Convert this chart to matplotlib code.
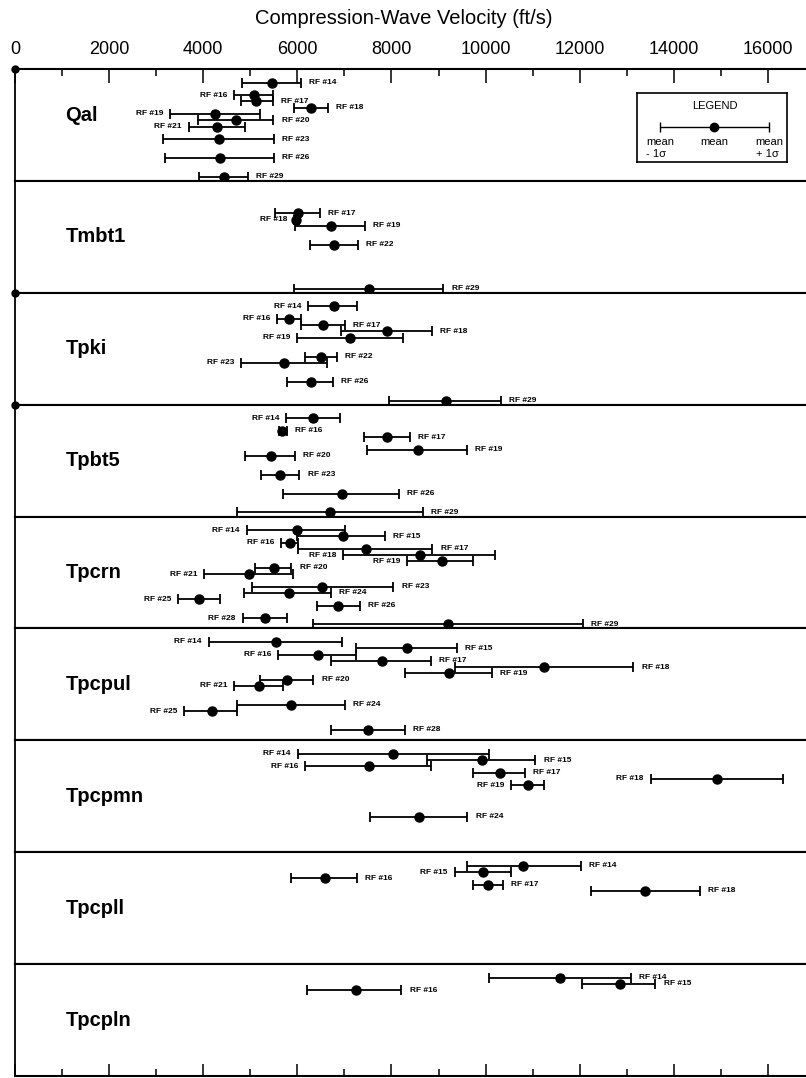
import matplotlib.pyplot as plt
from matplotlib.ticker import MultipleLocator

plt.rcParams['font.family'] = ['Liberation Sans', 'DejaVu Sans']

# ---------- data: velocity per refraction line (ft/s) ----------
title = "Compression-Wave Velocity (ft/s)"

qal_rf = [14, 16, 17, 18, 19, 20, 21, 23, 26, 29]
qal_low = [4830, 4650, 4810, 5930, 3290, 3880, 3690, 3140, 3190, 3910]
qal_mean = [5460, 5070, 5120, 6280, 4260, 4700, 4300, 4340, 4360, 4450]
qal_high = [6070, 5480, 5480, 6650, 5210, 5490, 4890, 5500, 5500, 4950]
qal_left = [16, 19, 21]

tmbt1_rf = [17, 18, 19, 22, 29]
tmbt1_low = [5530, 5930, 5960, 6260, 5920]
tmbt1_mean = [6020, 5980, 6710, 6780, 7520]
tmbt1_high = [6480, 6030, 7440, 7280, 9100]
tmbt1_left = [18]

tpki_rf = [14, 16, 17, 18, 19, 22, 23, 26, 29]
tpki_low = [6230, 5570, 6070, 6920, 6000, 6170, 4810, 5770, 7950]
tpki_mean = [6770, 5830, 6540, 7900, 7120, 6500, 5720, 6280, 9150]
tpki_high = [7260, 6080, 7010, 8860, 8240, 6840, 6620, 6750, 10320]
tpki_left = [14, 16, 19, 23]

tpbt5_rf = [14, 16, 17, 19, 20, 23, 26, 29]
tpbt5_low = [5760, 5600, 7420, 7490, 4890, 5230, 5700, 4710]
tpbt5_mean = [6340, 5680, 7910, 8560, 5430, 5640, 6950, 6690]
tpbt5_high = [6910, 5770, 8390, 9600, 5950, 6040, 8160, 8660]
tpbt5_left = [14]

tpcrn_rf = [14, 15, 16, 17, 18, 19, 20, 21, 23, 24, 25, 26, 28, 29]
tpcrn_low = [4920, 6000, 5660, 6020, 6980, 8340, 5100, 4020, 5030, 4870, 3470, 6410, 4840, 6340]
tpcrn_mean = [6000, 6960, 5840, 7460, 8610, 9070, 5500, 4970, 6530, 5820, 3910, 6870, 5310, 9210]
tpcrn_high = [7020, 7860, 6020, 8870, 10210, 9740, 5870, 5910, 8040, 6710, 4360, 7330, 5770, 12060]
tpcrn_left = [14, 16, 18, 19, 21, 25, 28]

tpcpul_rf = [14, 15, 16, 17, 18, 19, 20, 21, 24, 25, 28]
tpcpul_low = [4120, 7250, 5590, 6720, 9340, 8290, 5210, 4660, 4710, 3600, 6720]
tpcpul_mean = [5550, 8320, 6430, 7790, 11250, 9220, 5790, 5190, 5860, 4180, 7510]
tpcpul_high = [6950, 9390, 7250, 8840, 13140, 10130, 6340, 5700, 7010, 4710, 8290]
tpcpul_left = [14, 16, 21, 25]

tpcpmn_rf = [14, 15, 16, 17, 18, 19, 24]
tpcpmn_low = [6010, 8750, 6160, 9730, 13510, 10550, 7540]
tpcpmn_mean = [8040, 9920, 7520, 10310, 14920, 10910, 8580]
tpcpmn_high = [10070, 11060, 8830, 10830, 16320, 11240, 9610]
tpcpmn_left = [14, 16, 18, 19]

tpcpll_rf = [14, 15, 16, 17, 18]
tpcpll_low = [9600, 9340, 5870, 9730, 12230]
tpcpll_mean = [10800, 9950, 6580, 10060, 13390]
tpcpll_high = [12020, 10550, 7260, 10360, 14550]
tpcpll_left = [15]

tpcpln_rf = [14, 15, 16]
tpcpln_low = [10070, 12040, 6200]
tpcpln_mean = [11580, 12860, 7240]
tpcpln_high = [13080, 13610, 8210]
tpcpln_left = []

# legend sample, in units of sigma
legend_x = [-1, 0, 1]

sections = [
    ("Qal", qal_rf, qal_low, qal_mean, qal_high, qal_left),
    ("Tmbt1", tmbt1_rf, tmbt1_low, tmbt1_mean, tmbt1_high, tmbt1_left),
    ("Tpki", tpki_rf, tpki_low, tpki_mean, tpki_high, tpki_left),
    ("Tpbt5", tpbt5_rf, tpbt5_low, tpbt5_mean, tpbt5_high, tpbt5_left),
    ("Tpcrn", tpcrn_rf, tpcrn_low, tpcrn_mean, tpcrn_high, tpcrn_left),
    ("Tpcpul", tpcpul_rf, tpcpul_low, tpcpul_mean, tpcpul_high, tpcpul_left),
    ("Tpcpmn", tpcpmn_rf, tpcpmn_low, tpcpmn_mean, tpcpmn_high, tpcpmn_left),
    ("Tpcpll", tpcpll_rf, tpcpll_low, tpcpll_mean, tpcpll_high, tpcpll_left),
    ("Tpcpln", tpcpln_rf, tpcpln_low, tpcpln_mean, tpcpln_high, tpcpln_left),
]
dotted_tops = ["Qal", "Tpki", "Tpbt5"]  # little blobs on the left axis


def main():
    W, H = 806, 1078
    fig = plt.figure(figsize=(W / 100, H / 100), dpi=100)

    left = 15 / W
    top_px, bot_px = 69, 1076
    h = (bot_px - top_px) / len(sections)
    xmax = (W - 15) / 0.04706
    ylim = (29.65, 11.85)

    ebar = dict(fmt='o', color='black', ms=6.5, lw=1.3, capsize=3.6, capthick=1.3)

    for i, (name, rf, lo, mu, hi, left_lab) in enumerate(sections):
        y0 = top_px + i * h
        ax = fig.add_axes([left, 1 - (y0 + h) / H, 1 - left, h / H])
        ax.set_xlim(0, xmax)
        ax.set_ylim(*ylim)
        ax.set_yticks([])
        ax.xaxis.set_major_locator(MultipleLocator(2000))
        ax.xaxis.set_minor_locator(MultipleLocator(1000))
        ax.tick_params(axis='x', which='both', bottom=False, top=False,
                       labelbottom=False, labeltop=False)
        ax.spines['right'].set_visible(False)
        for s in ('top', 'bottom'):
            ax.spines[s].set_linewidth(1.5)
        ax.spines['left'].set_linewidth(1.3)

        xerr = [[m - l for m, l in zip(mu, lo)], [u - m for u, m in zip(hi, mu)]]
        bars = ax.errorbar(mu, rf, xerr=xerr, **ebar)
        for artist in bars.get_children():
            artist.set_clip_on(False)

        for r, l, u in zip(rf, lo, hi):
            if r in left_lab:
                ax.annotate(f"RF #{r}", xy=(l, r), xytext=(-5, 0),
                            textcoords='offset points', ha='right', va='center',
                            fontsize=6, fontweight='bold')
            else:
                ax.annotate(f"RF #{r}", xy=(u, r), xytext=(6, 0),
                            textcoords='offset points', ha='left', va='center',
                            fontsize=6, fontweight='bold')

        ypos = 0.58 if name == "Qal" else 0.5
        ax.text(0.064, ypos, name, transform=ax.transAxes, ha='left', va='center',
                fontsize=14.5, fontweight='bold')

        if name in dotted_tops:
            ax.plot(0, ylim[1], 'o', color='black', ms=5, clip_on=False)

        if i == 0:
            ax.tick_params(axis='x', which='both', top=True, labeltop=True,
                           direction='in', width=1.1, labelsize=13, pad=8)
            ax.tick_params(axis='x', which='major', length=10)
            ax.tick_params(axis='x', which='minor', length=5)
        if i == len(sections) - 1:
            ax.tick_params(axis='x', which='both', bottom=True, direction='in',
                           width=1.1)
            ax.tick_params(axis='x', which='major', length=9)
            ax.tick_params(axis='x', which='minor', length=5)

    fig.text(404 / W, 1 - 19 / H, title, ha='center', va='center', fontsize=14.5)

    # ---------- legend box ----------
    lg = fig.add_axes([637 / W, 1 - 162 / H, 150 / W, 69 / H])
    lg.set_xlim(-1.42, 1.33)
    lg.set_ylim(1, 0)
    lg.set_xticks([])
    lg.set_yticks([])
    for s in lg.spines.values():
        s.set_linewidth(1.2)
    lg.errorbar(legend_x[1], 0.49, xerr=[[legend_x[1] - legend_x[0]], [legend_x[2] - legend_x[1]]],
                fmt='o', color='black', ms=6, lw=1.0, capsize=3.5, capthick=1.0)
    lg.text(0, 0.19, "LEGEND", ha='center', va='center', fontsize=8)
    for xv in legend_x:
        lg.text(xv, 0.71, "mean", ha='center', va='center', fontsize=8)
    lg.text(legend_x[0] - 0.25, 0.88, "- 1σ", ha='left', va='center', fontsize=8)
    lg.text(legend_x[2] + 0.18, 0.88, "+ 1σ", ha='right', va='center', fontsize=8)

    fig.savefig("out.png", dpi=100)


if __name__ == "__main__":
    main()
